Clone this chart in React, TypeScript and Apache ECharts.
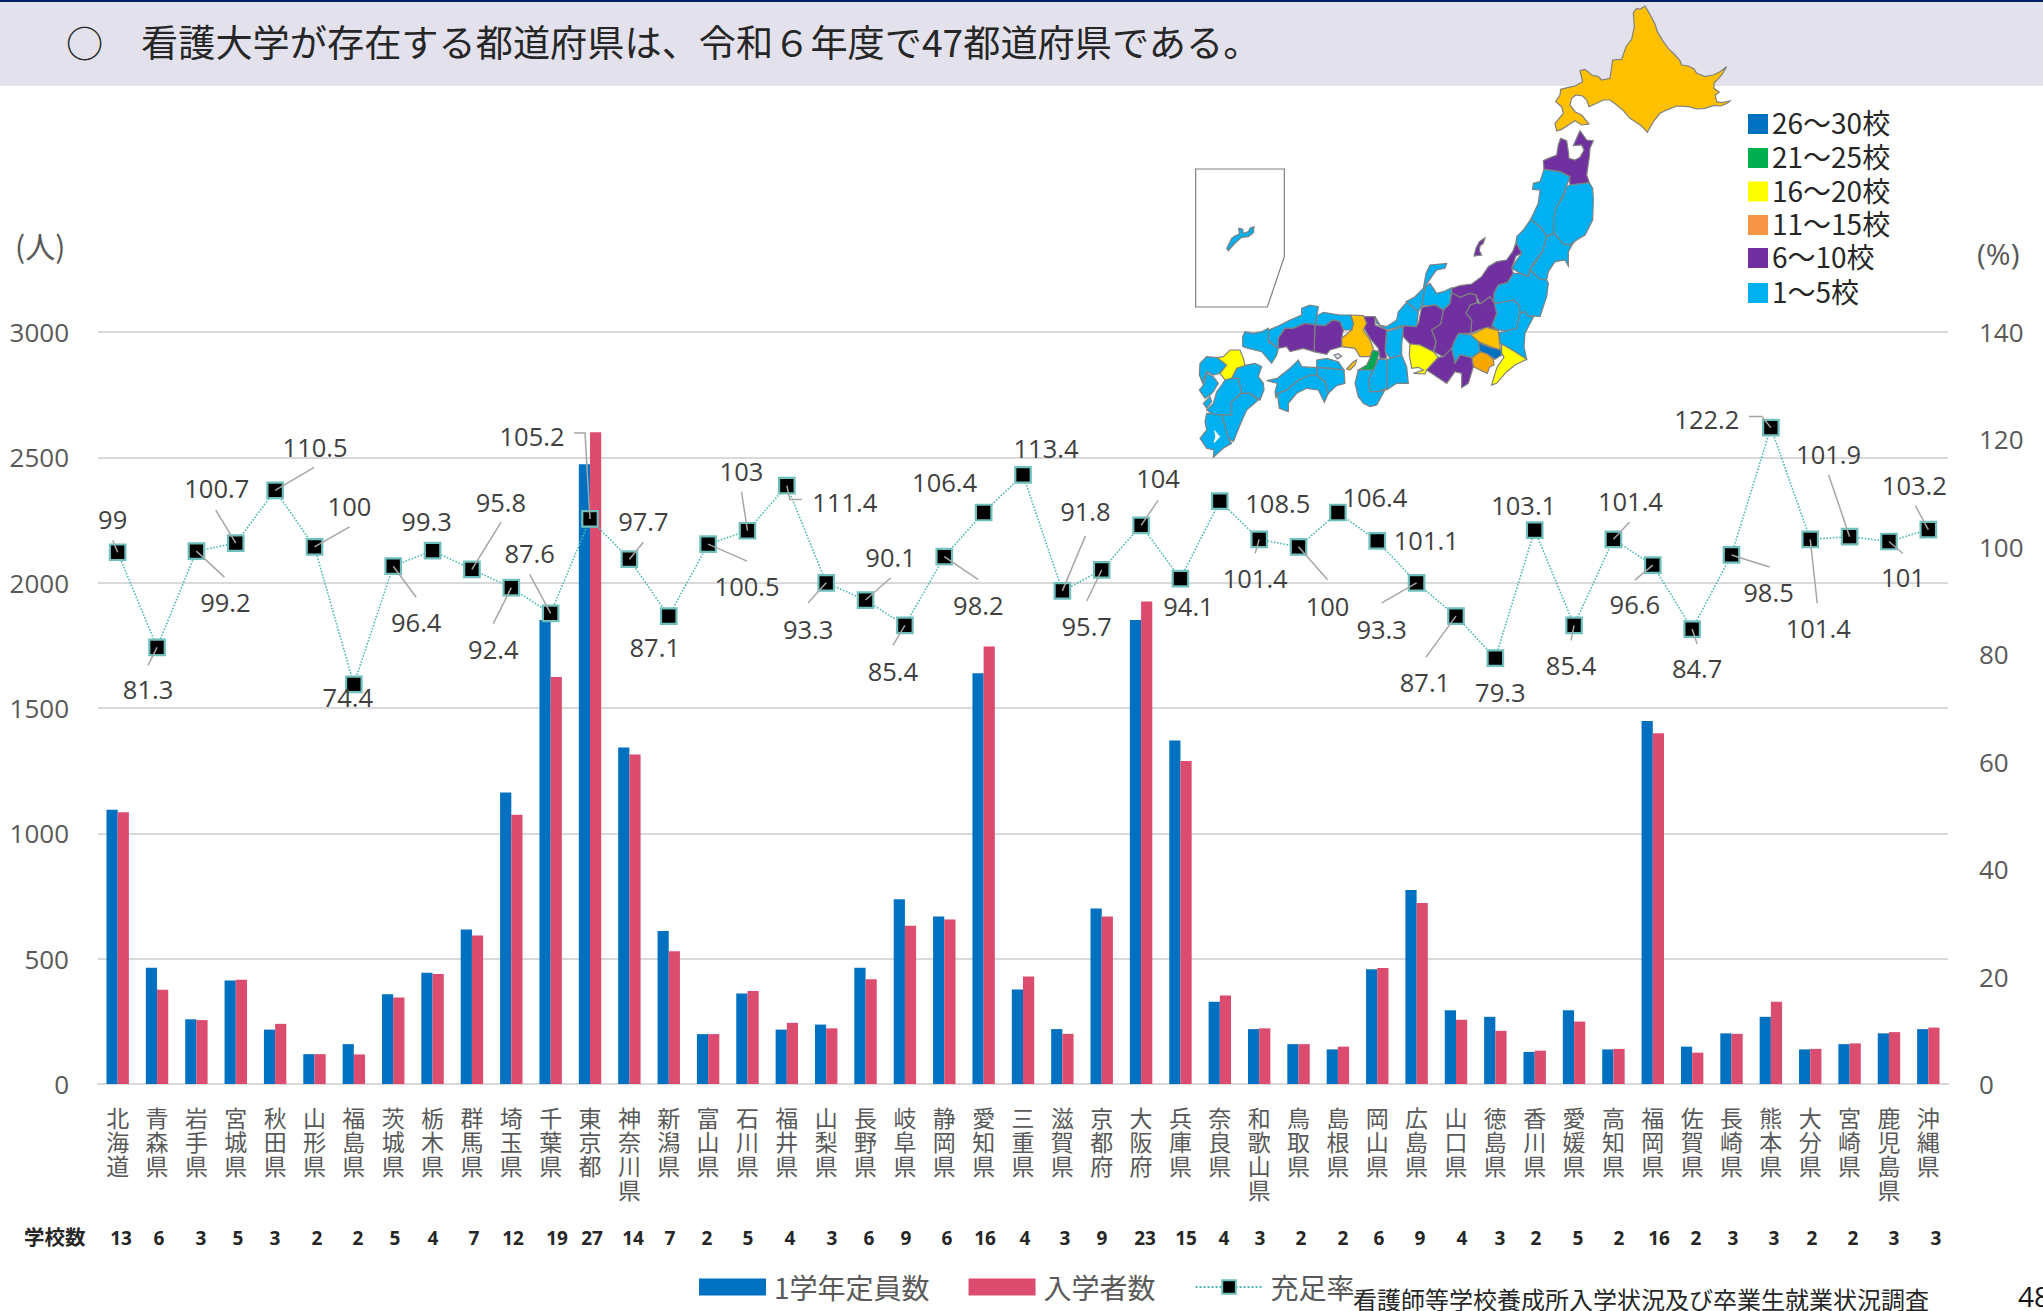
import React, { useEffect, useRef } from "react";
import * as echarts from "echarts";

const prefectures = ["北海道","青森県","岩手県","宮城県","秋田県","山形県","福島県","茨城県","栃木県","群馬県","埼玉県","千葉県","東京都","神奈川県","新潟県","富山県","石川県","福井県","山梨県","長野県","岐阜県","静岡県","愛知県","三重県","滋賀県","京都府","大阪府","兵庫県","奈良県","和歌山県","鳥取県","島根県","岡山県","広島県","山口県","徳島県","香川県","愛媛県","高知県","福岡県","佐賀県","長崎県","熊本県","大分県","宮崎県","鹿児島県","沖縄県"];
const capacity = [1094,464,258,413,217,119,159,358,444,616,1163,1851,2472,1342,610,199,361,217,237,464,737,668,1639,377,219,700,1851,1370,328,219,159,138,458,774,294,268,128,294,138,1448,149,202,268,138,159,202,219];
const enrolled = [1084,376,255,416,240,119,118,345,439,592,1074,1624,2600,1314,530,199,371,244,222,418,631,656,1745,429,200,668,1925,1289,353,222,159,149,463,722,256,212,133,249,140,1399,125,200,328,140,162,207,225];
const fillRate = [99,81.3,99.2,100.7,110.5,100,74.4,96.4,99.3,95.8,92.4,87.6,105.2,97.7,87.1,100.5,103,111.4,93.3,90.1,85.4,98.2,106.4,113.4,91.8,95.7,104,94.1,108.5,101.4,100,106.4,101.1,93.3,87.1,79.3,103.1,85.4,101.4,96.6,84.7,98.5,122.2,101.4,101.9,101,103.2];
const schoolCounts = [13,6,3,5,3,2,2,5,4,7,12,19,27,14,7,2,5,4,3,6,9,6,16,4,3,9,23,15,4,3,2,2,6,9,4,3,2,5,2,16,2,3,3,2,2,3,3];
const schoolCountX = [121,159,201,238,275,317,358,395,433,474,513,557,592,633,670,707,748,790,832,869,906,947,985,1025,1065,1102,1145,1186,1224,1260,1301,1343,1379,1420,1462,1500,1536,1578,1619,1659,1696,1733,1774,1812,1853,1894,1936];
const leftTicks = { min: 0, max: 3000, interval: 500 };
const rightTicks = { min: 0, max: 140, interval: 20 };
const seriesNames = ["1学年定員数", "入学者数", "充足率"];
const mapLegendLabels = ["26～30校", "21～25校", "16～20校", "11～15校", "6～10校", "1～5校"];
const mapLegendColors = ["#0070C0", "#00B050", "#FFFF00", "#F79646", "#7030A0", "#00B0F0"];

// label centre relative to its marker (px)
const labelOffset: number[][] = [[-5,-33],[-9,42],[29,51],[-19,-55],[40,-43],[35,-41],[-6,13],[23,56],[-6,-30],[29,-67],[-18,61],[-21,-60],[-58,-83],[14,-38],[-14,31],[39,42],[-6,-60],[58,16],[-18,46],[25,-43],[-12,46],[34,48],[-39,-30],[23,-27],[23,-80],[-15,56],[17,-47],[8,27],[58,2],[-4,39],[29,59],[37,-15],[49,-1],[-35,46],[-31,66],[5,34],[-11,-25],[-3,40],[17,-38],[-18,39],[5,39],[37,37],[-64,-9],[8,89],[-21,-83],[14,36],[-14,-45]];
// leader line points relative to its marker (px)
const leaderOffset: (number[][] | null)[] = [[[-5,-12]],[[-9,18]],[[28,26]],[[-20,-33]],[[39,-23]],[[35,-20]],null,[[23,31]],null,[[29,-47]],[[-18,36]],[[-21,-39]],[[-5,-86],[-16,-86]],[[14,-17]],null,[[39,17]],[[-6,-39]],[[3,14],[15,14]],[[-18,20]],[[25,-22]],[[-12,20]],[[34,23]],null,null,[[23,-55]],[[-15,31]],[[17,-25]],null,null,[[-4,14]],[[29,33]],null,null,[[-35,20]],[[-30,41]],null,null,[[-3,15]],[[16,-17]],[[-18,15]],[[5,15]],[[38,12]],[[-9,-11],[-22,-11]],[[7,64]],[[-21,-62]],[[14,12]],[[-13,-24]]];

const ORANGE = "#FFC000", PURPLE = "#7030A0", CYAN = "#00B0F0", BLUE = "#0070C0", GREEN = "#00A651", YELLOW = "#FFFF00";

const hokkaidoOutline = [280,38,290,25,300,28,315,18,328,40,345,72,352,95,368,122,385,145,405,165,420,182,425,195,445,198,462,207,470,220,495,230,520,225,540,215,560,200,545,225,522,250,522,265,538,277,526,285,530,305,545,308,570,303,562,310,543,318,522,316,495,325,470,327,445,320,410,318,385,328,360,340,340,365,322,397,305,378,270,355,250,332,230,315,210,300,190,300,165,312,147,320,140,300,128,288,108,285,95,295,90,315,105,335,125,345,147,372,125,375,105,362,85,375,65,388,50,393,45,370,70,340,65,320,47,305,60,285,62,268,85,262,105,258,128,245,120,212,135,208,155,225,175,230,185,240,210,235,218,180,245,178,258,140,275,118,283,80];

const eastShapes: [string, number[]][] = [
  [PURPLE, [430,122,445,115,470,105,475,75,482,55,500,62,505,95,507,115,525,120,540,112,552,90,545,75,520,77,540,32,560,60,580,62,570,85,568,110,560,165,568,188,510,195,508,170,480,155,432,148]],
  [CYAN, [432,148,480,155,510,170,490,225,468,265,462,310,462,340,440,350,425,325,392,298,415,250,420,210,398,208,400,190,420,185]],
  [CYAN, [510,195,568,188,578,205,580,240,578,300,555,345,530,360,510,375,490,372,462,340,462,290,470,260,490,230,500,200]],
  [CYAN, [392,298,425,325,440,350,428,395,400,430,390,450,385,470,360,460,335,445,350,420,365,400,348,370,350,350,370,330]],
  [CYAN, [440,350,462,340,490,372,510,375,522,365,505,395,505,438,495,420,465,425,445,455,440,480,420,478,390,450,428,395]],
  [PURPLE, [155,505,180,497,215,492,245,470,265,440,290,425,320,420,338,395,348,368,365,400,348,408,335,445,340,460,322,488,295,495,282,520,282,548,270,530,240,552,228,525,210,520,180,532,155,518]],
  [PURPLE, [255,353,250,370,240,378,238,392,245,405,222,408,228,385,238,365]],
  [CYAN, [340,460,360,460,385,470,390,450,420,478,440,480,445,490,440,530,420,590,402,588,385,590,375,575,360,580,358,555,340,540,300,550,282,548,282,520,295,495,322,488]],
  [CYAN, [282,552,340,540,358,555,360,580,350,625,320,633,295,630,275,618,290,580]],
  [CYAN, [360,580,375,575,385,590,402,588,375,640,372,680,380,718,345,695,300,670,298,638,320,633,350,625]],
  [PURPLE, [198,580,210,555,232,548,240,552,270,530,282,548,290,580,275,618,295,630,265,622,235,630,212,640,215,600]],
  [ORANGE, [212,645,260,622,295,632,298,660,302,690,270,680,235,665]],
  [BLUE, [228,665,270,682,302,690,305,705,285,718,262,702,240,695]],
  ["#F7A800", [215,713,240,695,262,702,280,718,282,735,268,742,262,760,235,748,220,740]],
  [YELLOW, [305,672,345,695,380,718,345,735,320,755,290,790,275,795,285,760,292,740,312,712,305,700]],
  [CYAN, [160,670,175,640,212,645,235,665,240,695,215,713,180,705,165,730,155,685]],
  [PURPLE, [155,518,180,532,210,520,228,525,232,548,210,555,198,580,215,600,212,640,175,640,160,670,155,685,130,710,102,695,108,665,95,630,122,610,130,570,150,550]],
  [CYAN, [65,558,75,500,90,490,110,520,130,515,155,503,150,550,130,570,105,555]],
  [CYAN, [18,545,45,530,70,505,78,460,90,435,140,430,135,445,110,450,95,470,75,500,65,558,55,575]],
  [PURPLE, [55,612,65,562,105,555,130,570,122,612,95,630,108,665,100,695,60,675,30,672,10,650,5,618]],
  [YELLOW, [30,672,60,675,100,695,115,712,80,750,75,762,40,760,70,750,55,742,35,745,28,705]],
  [PURPLE, [80,750,115,712,130,710,155,685,165,730,180,705,215,713,220,740,205,790,185,803,185,760,165,755,140,790,110,770]],
];

const westShapes: [string, number[]][] = [
  [CYAN, [555,65,560,85,590,105,640,92,680,95,685,50,650,22,625,50,620,75,590,95,570,90]],
  [CYAN, [590,110,640,95,635,150,635,180,600,190,585,170]],
  [PURPLE, [520,65,555,65,555,90,590,105,585,165,590,190,570,190,565,160,540,130,520,95,530,85]],
  [GREEN, [548,165,568,170,560,200,550,225,505,225,530,210,540,190]],
  [ORANGE, [482,60,520,62,530,85,520,105,540,135,550,160,540,185,510,185,495,160,455,155,455,130,485,105,490,85]],
  [ORANGE, [470,222,490,200,500,195,495,210,480,225]],
  [CYAN, [565,192,590,195,590,240,590,280,565,290,540,290,535,255,550,225,562,200]],
  [CYAN, [505,225,550,225,535,255,540,290,565,290,585,285,560,330,540,335,520,325,505,305,495,265]],
  [CYAN, [600,190,635,180,650,215,655,265,620,265,590,285,590,195]],
  [CYAN, [375,65,400,52,450,60,482,60,490,85,485,105,460,105,450,80,430,75,405,92,378,90]],
  [CYAN, [235,105,260,95,300,75,335,60,335,40,360,30,385,35,380,65,375,90,345,85,310,100,285,100,265,130,265,160,245,145,235,135]],
  [CYAN, [158,125,165,110,190,115,215,110,235,100,235,140,265,160,260,180,245,205,215,170,175,160,158,155]],
  [PURPLE, [375,90,405,92,430,75,450,80,460,105,455,130,455,155,420,165,410,178,372,170]],
  [PURPLE, [265,130,285,100,310,100,345,85,375,90,372,170,340,160,300,170,290,155,265,160]],
  [CYAN, [380,195,410,190,445,200,462,225,420,220,380,218]],
  [CYAN, [380,218,420,220,462,225,465,265,440,272,415,295,405,260,380,240]],
  [CYAN, [262,295,290,285,325,255,360,240,380,240,405,260,415,295,403,322,385,285,350,280,320,295,295,325,295,350,268,340]],
  [CYAN, [230,257,262,250,300,220,325,195,335,215,380,218,380,240,360,240,325,255,290,285,262,295,258,310,255,290,262,265]],
  ["#DCE6F2", [432,180,445,176,455,184,442,192]],
  [CYAN, [160,212,195,205,215,215,205,245,220,265,222,285,210,315,180,295,155,295,145,250,125,250,140,220]],
  [CYAN, [30,205,50,185,82,188,110,210,90,235,70,240,50,230,38,265,28,240]],
  [YELLOW, [82,188,100,185,120,165,150,165,160,190,165,212,140,220,125,250,105,255,90,235,110,210]],
  [CYAN, [28,285,40,270,50,235,70,245,85,265,70,290,60,300,45,310]],
  [CYAN, [40,325,60,305,65,320,50,340]],
  [CYAN, [105,255,125,250,145,250,155,295,125,320,125,360,95,360,70,360,50,345,70,325,80,290,95,270]],
  [CYAN, [125,320,155,295,180,295,205,315,170,345,150,390,130,440,115,430,95,360,125,360]],
  [CYAN, [50,355,95,360,115,430,125,445,100,460,70,487,72,465,50,460,30,430,50,405,45,380]],
  ["#FFFFFF", [75,410,88,425,72,442,78,425]],
];

const okinawaBox = [47,27,313,27,313,290,262,441,47,441];
const okinawaIsland = [140,265,145,272,160,255,170,245,185,232,205,230,220,218,222,200,210,205,205,215,190,220,188,208,176,205,178,222,165,228,155,235,148,250];

const toPoints = (flat: number[], ox: number, oy: number) => {
  const out: number[][] = [];
  for (let i = 0; i < flat.length; i += 2) out.push([ox + flat[i] / 3, oy + flat[i + 1] / 3]);
  return out;
};

const JP = '"Noto Sans CJK JP", "Noto Sans", sans-serif';
const NUM = '"Open Sans", "Noto Sans", sans-serif';
const GRAY = "#595959";

const poly = (points: number[][], fill: string, stroke = "#808080", z = 50) => ({
  type: "polygon", z, silent: true, shape: { points }, style: { fill, stroke, lineWidth: 1.2 },
});
const txt = (text: string, x: number, y: number, fontSize: number, fill: string, extra: any = {}) => ({
  type: "text", z: 60, silent: true, x, y,
  style: { text, fontSize, fontFamily: JP, fill, textVerticalAlign: "middle", textAlign: "left", ...extra },
});

export default function App() {
  const ref = useRef<HTMLDivElement>(null);
  useEffect(() => {
    document.body.style.margin = "0";
    document.body.style.overflow = "hidden";
    const chart = echarts.init(ref.current!, undefined, { renderer: "svg" });
    const graphic: any[] = [
      { type: "rect", z: 1, silent: true, shape: { x: 0, y: 0, width: 2043, height: 86 }, style: { fill: "#E2E1EC" } },
      { type: "rect", z: 2, silent: true, shape: { x: 0, y: 0, width: 2043, height: 2 }, style: { fill: "#002060" } },
      txt("○", 66, 42, 37.2, "#262626"),
      txt("看護大学が存在する都道府県は、令和６年度で47都道府県である。", 141, 41, 37.2, "#262626"),
      txt("(人)", 15, 245, 30, GRAY),
      txt("(%)", 1977, 253, 30, GRAY, { fontFamily: NUM }),
      poly(toPoints(okinawaBox, 1180, 160), "#FFFFFF"),
      poly(toPoints(okinawaIsland, 1180, 160), CYAN),
      poly(toPoints(hokkaidoOutline, 1540, 0), ORANGE),
      ...eastShapes.map(([c, p]) => poly(toPoints(p, 1400, 120), c)),
      ...westShapes.map(([c, p]) => poly(toPoints(p, 1190, 295), c, c === "#FFFFFF" ? "#FFFFFF" : "#808080")),
      ...mapLegendLabels.flatMap((t, i) => {
        const ys = [124, 158, 191.5, 225, 258, 293];
        return [
          { type: "rect", z: 60, silent: true, shape: { x: 1748, y: ys[i] - 10, width: 20, height: 20 }, style: { fill: mapLegendColors[i] } },
          txt(t, 1772, ys[i] - 2, 28, "#262626"),
        ];
      }),
      txt("学校数", 24, 1236, 20.5, "#262626", { fontWeight: "bold" }),
      ...schoolCounts.map((n, i) => txt(String(n), schoolCountX[i], 1238, 19, "#262626", { fontWeight: "bold", textAlign: "center", fontFamily: NUM })),
      txt("看護師等学校養成所入学状況及び卒業生就業状況調査", 1353, 1298, 24, "#262626"),
      txt("48", 2018, 1296, 28, "#111111", { fontFamily: NUM }),
    ];

    chart.setOption({
      animation: false,
      backgroundColor: "#FFFFFF",
      textStyle: { fontFamily: NUM },
      legend: {
        left: 694, top: 1268, itemWidth: 67, itemHeight: 17, itemGap: 39,
        data: [
          { name: seriesNames[0], icon: "rect" },
          { name: seriesNames[1], icon: "rect" },
          { name: seriesNames[2] },
        ],
        selectedMode: false,
        textStyle: { fontSize: 28, color: GRAY, fontFamily: JP, padding: [0, 0, 6, 3] },
      },
      grid: { left: 98, right: 95, top: 332, height: 752, containLabel: false },
      xAxis: {
        type: "category", data: prefectures,
        axisTick: { show: false },
        axisLine: { lineStyle: { color: "#D9D9D9", width: 2 } },
        axisLabel: {
          interval: 0, margin: 21, fontSize: 23, lineHeight: 24, color: GRAY, fontFamily: JP,
          verticalAlign: "top",
          formatter: (v: string) => v.split("").join("\n"),
        },
      },
      yAxis: [
        {
          type: "value", ...leftTicks,
          axisLine: { show: false }, axisTick: { show: false },
          axisLabel: { margin: 29, fontSize: 26, color: GRAY, fontFamily: NUM, formatter: (v: number) => String(v) },
          splitLine: { lineStyle: { color: "#D9D9D9", width: 2 } },
        },
        {
          type: "value", ...rightTicks, position: "right",
          axisLine: { show: false }, axisTick: { show: false },
          axisLabel: { margin: 31, fontSize: 26, color: GRAY, fontFamily: NUM, formatter: (v: number) => String(v) },
          splitLine: { show: false },
        },
      ],
      series: [
        { name: seriesNames[0], type: "bar", data: capacity, barWidth: 11.2, barGap: 0, itemStyle: { color: "#0070C0" } },
        { name: seriesNames[1], type: "bar", data: enrolled, barWidth: 11.2, barGap: 0, itemStyle: { color: "#DC4C6E" } },
        {
          name: seriesNames[2], type: "line", yAxisIndex: 1, data: fillRate,
          symbol: "rect", symbolSize: 15.5, showSymbol: true, showAllSymbols: true,
          itemStyle: { color: "#000000", borderColor: "#6FC0BC", borderWidth: 2.2 },
          lineStyle: { color: "#4DBBB5", width: 1.6, type: "dotted" },
          z: 5,
        },
        {
          name: "labels", type: "custom", yAxisIndex: 1, z: 8, silent: true,
          data: fillRate.map((v, i) => [i, v]),
          renderItem: (_: any, api: any) => {
            const i = api.value(0);
            const p = api.coord([i, api.value(1)]);
            const children: any[] = [];
            const lead = leaderOffset[i];
            if (lead) {
              children.push({
                type: "polyline",
                shape: { points: [p, ...lead.map((o) => [p[0] + o[0], p[1] + o[1]])] },
                style: { stroke: "#A6A6A6", lineWidth: 1.5, fill: "none" },
              });
            }
            children.push({
              type: "text",
              style: {
                text: String(api.value(1)),
                x: p[0] + labelOffset[i][0], y: p[1] + labelOffset[i][1],
                fontSize: 25.5, fontFamily: NUM, fill: "#404040",
                textAlign: "center", textVerticalAlign: "middle",
              },
            });
            return { type: "group", children };
          },
        },
      ],
      graphic: { elements: graphic },
    });
    return () => chart.dispose();
  }, []);
  return <div ref={ref} style={{ position: "absolute", left: 0, top: 0, width: 2043, height: 1311 }} />;
}
